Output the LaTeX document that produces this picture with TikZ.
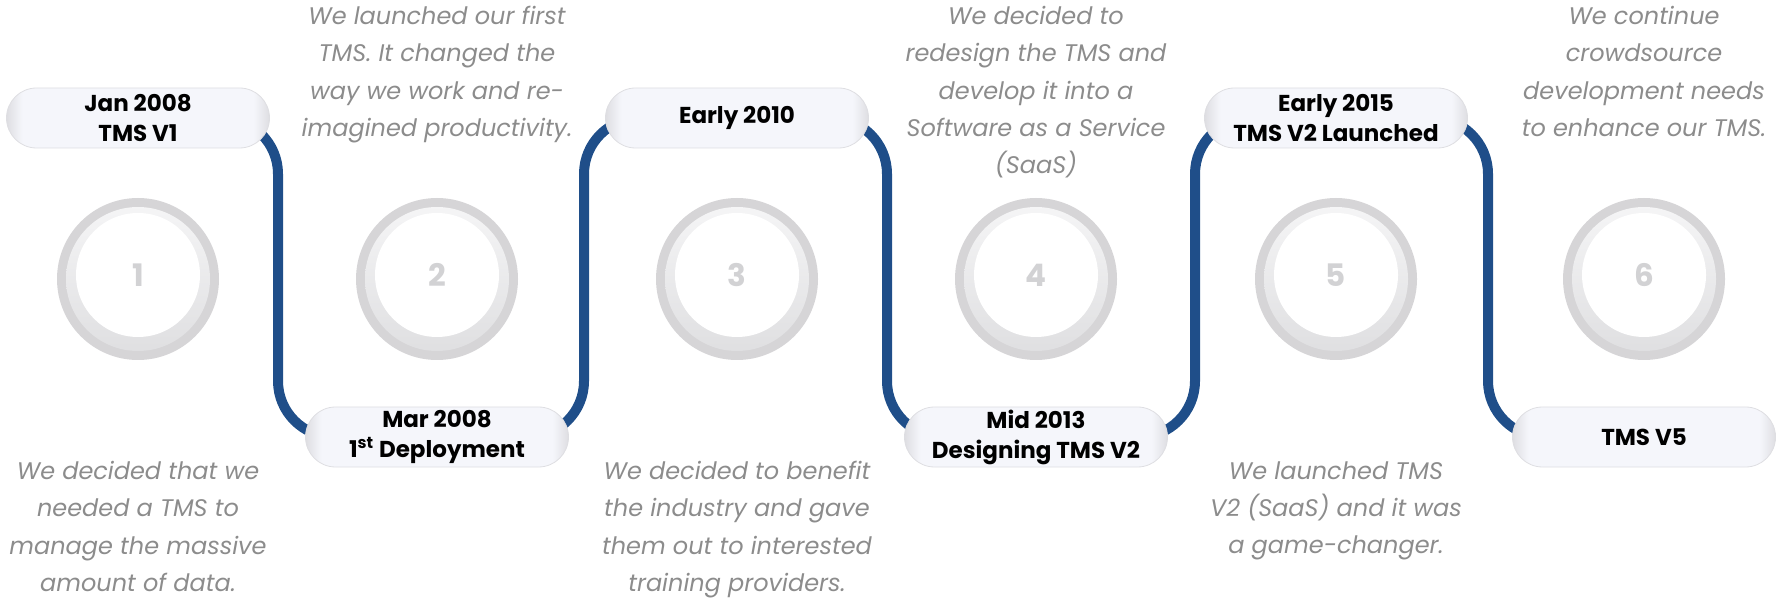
\documentclass[tikz,border=0pt]{standalone}
\usepackage{fontspec}
\setmainfont{Poppins}
\usepackage{xcolor}
\usepackage{tikz}
\usetikzlibrary{backgrounds, positioning}

\definecolor{lineblue}{RGB}{31,78,137}
\definecolor{boxfill}{RGB}{245,246,251}
\definecolor{boxend}{RGB}{222,222,226}
\definecolor{ringgray}{RGB}{214,213,215}
\definecolor{ringlight}{RGB}{246,246,247}
\definecolor{ringdark}{RGB}{222,222,224}
\definecolor{numgray}{RGB}{210,210,212}
\definecolor{notegray}{RGB}{140,140,140}

\pgfdeclarehorizontalshading{pill}{100bp}{color(0bp)=(boxend); color(25bp)=(boxend); color(28bp)=(boxfill); color(72bp)=(boxfill); color(75bp)=(boxend); color(100bp)=(boxend)}

\begin{document}
\begin{tikzpicture}[x=0.5pt, y=0.5pt]
    % Define styles
    \tikzstyle{datebox}=[rectangle, rounded corners=15pt, minimum width=131.5pt, minimum height=30pt, inner sep=0pt, shade, shading=pill, draw=boxend, line width=0.4pt, align=center, font=\bfseries\fontsize{11.5}{15}\selectfont]
    \tikzstyle{ring}=[circle, minimum size=81pt, inner sep=0pt, fill=ringgray, text=numgray, text depth=4pt, font=\bfseries\fontsize{15.5}{18}\selectfont,
        path picture={\fill[top color=ringlight, bottom color=ringdark] (path picture bounding box.center) circle (36pt);
                      \fill[white] ([yshift=2pt]path picture bounding box.center) circle (31pt);}]
    \tikzstyle{note}=[anchor=north, inner sep=0pt, align=center, text=notegray, font=\itshape\fontsize{12}{18.6}\selectfont]
    \tikzstyle{timeline}=[draw=lineblue, line width=5pt, rounded corners=28pt]

    \useasboundingbox (0,0) rectangle (1781,605);

    % Draw the date boxes
    \foreach \name/\x/\y/\txt in {m1/138/487/{Jan 2008\\TMS V1}, m2/437/168/{Mar 2008\\1\textsuperscript{st} Deployment},
                                  m3/737/487/{Early 2010}, m4/1036/168/{Mid 2013\\Designing TMS V2},
                                  m5/1336/487/{Early 2015\\TMS V2 Launched}, m6/1644/168/{TMS V5}}
        \node[datebox] (\name) at (\x,\y) {\txt};

    % Draw the rings
    \foreach \i/\x in {1/138, 2/437, 3/737, 4/1036, 5/1336, 6/1644}
        \node[ring] (r\i) at (\x,326) {\i};

    % Draw the notes
    \foreach \name/\x/\y/\txt in {n1/138/144/{We decided that we\\needed a TMS to\\manage the massive\\amount of data.},
                                  n2/437/599/{We launched our first\\TMS. It changed the\\way we work and re-\\imagined productivity.},
                                  n3/737/144/{We decided to benefit\\the industry and gave\\them out to interested\\training providers.},
                                  n4/1036/599/{We decided to\\redesign the TMS and\\develop it into a\\Software as a Service\\(SaaS)},
                                  n5/1336/144/{We launched TMS\\V2 (SaaS) and it was\\a game-changer.},
                                  n6/1644/599/{We continue\\crowdsource\\development needs\\to enhance our TMS.}}
        \node[note] (\name) at (\x,\y) {\txt};

    % Draw the timeline behind the boxes
    \begin{pgfonlayer}{background}
    \foreach \a/\b/\dx in {m1/m2/140, m2/m3/147, m3/m4/150, m4/m5/159, m5/m6/152}
        \draw[timeline] (\a.center) -- ++(\dx,0) |- (\b.center);
    \end{pgfonlayer}

\end{tikzpicture}
\end{document}
